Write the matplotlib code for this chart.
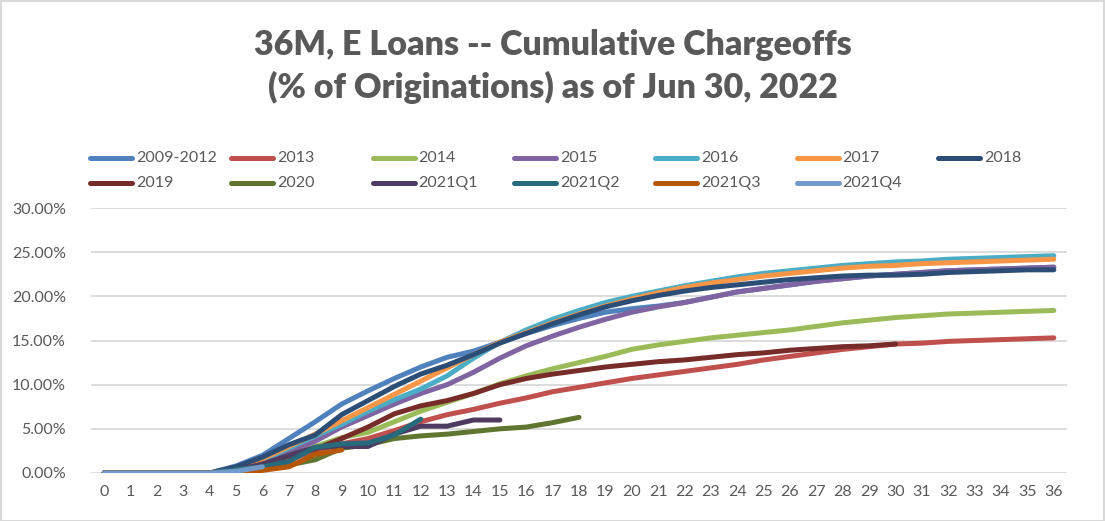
import matplotlib
matplotlib.use("Agg")
import matplotlib.pyplot as plt
from matplotlib.lines import Line2D
from matplotlib.patches import Rectangle
import numpy as np

months = list(range(37))
series_names = ["2009-2012", "2013", "2014", "2015", "2016", "2017", "2018",
                "2019", "2020", "2021Q1", "2021Q2", "2021Q3", "2021Q4"]
colors = ["#4F81BD", "#C0504D", "#9BBB59", "#8064A2", "#4BACC6", "#F79646", "#2C4D75",
          "#772C2A", "#5F7530", "#4D3B62", "#276A7C", "#B65708", "#729ACA"]

s_2009_2012 = [0, 0, 0, 0, 0, 0.8, 2.0, 3.9, 5.8, 7.8, 9.3, 10.7, 12.0, 13.1, 13.8, 14.8, 15.8, 16.7,
               17.5, 18.2, 18.6, 18.9, 19.3, 19.9, 20.5, 20.9, 21.3, 21.7, 22.0, 22.3, 22.5, 22.7,
               22.9, 23.0, 23.1, 23.2, 23.3]
s_2013 = [0, 0, 0, 0, 0, 0.1, 0.6, 1.5, 2.5, 3.3, 3.9, 4.8, 5.8, 6.6, 7.2, 7.9, 8.5, 9.2, 9.7,
          10.2, 10.7, 11.1, 11.5, 11.9, 12.3, 12.8, 13.2, 13.6, 14.0, 14.3, 14.6, 14.7, 14.9,
          15.0, 15.1, 15.2, 15.3]
s_2014 = [0, 0, 0, 0, 0, 0.2, 0.8, 1.8, 3.0, 4.0, 4.6, 5.8, 7.0, 8.0, 9.0, 10.1, 11.0, 11.8,
          12.5, 13.2, 14.0, 14.5, 14.9, 15.3, 15.6, 15.9, 16.2, 16.6, 17.0, 17.3, 17.6, 17.8,
          18.0, 18.1, 18.2, 18.3, 18.4]
s_2015 = [0, 0, 0, 0, 0, 0.4, 1.3, 2.4, 3.6, 5.2, 6.5, 7.8, 9.0, 10.0, 11.4, 13.0, 14.4, 15.5,
          16.5, 17.4, 18.2, 18.8, 19.3, 19.9, 20.5, 20.9, 21.3, 21.7, 22.0, 22.3, 22.5, 22.7,
          22.9, 23.0, 23.1, 23.2, 23.3]
s_2016 = [0, 0, 0, 0, 0, 0.5, 1.5, 2.8, 4.2, 5.5, 7.0, 8.3, 9.5, 11.0, 13.0, 14.8, 16.2, 17.4,
          18.4, 19.3, 20.0, 20.6, 21.2, 21.7, 22.2, 22.6, 22.9, 23.2, 23.5, 23.7, 23.9, 24.0,
          24.2, 24.3, 24.4, 24.5, 24.6]
s_2017 = [0, 0, 0, 0, 0, 0.6, 1.6, 3.0, 4.4, 5.9, 7.4, 8.9, 10.4, 11.9, 13.4, 14.8, 15.9, 17.0,
          18.0, 18.9, 19.7, 20.4, 21.0, 21.5, 21.9, 22.3, 22.6, 22.9, 23.2, 23.4, 23.5, 23.7,
          23.8, 23.9, 24.0, 24.1, 24.2]
s_2018 = [0, 0, 0, 0, 0, 0.7, 1.8, 3.2, 4.3, 6.6, 8.2, 9.8, 11.2, 12.2, 13.4, 14.7, 15.8, 16.9,
          17.9, 18.8, 19.5, 20.1, 20.6, 21.0, 21.3, 21.6, 21.9, 22.1, 22.3, 22.4, 22.4, 22.5,
          22.7, 22.8, 22.9, 23.0, 23.0]
s_2019 = [0, 0, 0, 0, 0, 0.3, 1.0, 1.9, 2.7, 3.9, 5.2, 6.7, 7.6, 8.2, 9.0, 10.0, 10.7, 11.2,
          11.6, 12.0, 12.3, 12.6, 12.8, 13.1, 13.4, 13.6, 13.9, 14.1, 14.3, 14.4, 14.6]
s_2020 = [0, 0, 0, 0, 0, 0.1, 0.5, 0.9, 1.5, 2.8, 3.2, 3.9, 4.2, 4.4, 4.7, 5.0, 5.2, 5.7, 6.3]
s_2021Q1 = [0, 0, 0, 0, 0, 0.3, 1.0, 2.0, 2.9, 3.0, 3.0, 4.4, 5.3, 5.3, 6.0, 6.0]
s_2021Q2 = [0, 0, 0, 0, 0, 0.4, 0.7, 1.3, 2.9, 3.3, 3.4, 4.3, 6.1]
s_2021Q3 = [0, 0, 0, 0, 0, 0.0, 0.3, 0.7, 2.1, 2.6]
s_2021Q4 = [0, 0, 0, 0, 0, 0.2, 0.7]

all_series = [s_2009_2012, s_2013, s_2014, s_2015, s_2016, s_2017, s_2018,
              s_2019, s_2020, s_2021Q1, s_2021Q2, s_2021Q3, s_2021Q4]

y_ticks = [0, 5, 10, 15, 20, 25, 30]
title_text = "36M, E Loans -- Cumulative Chargeoffs\n(% of Originations) as of Jun 30, 2022"

W, H = 1105, 521
fig = plt.figure(figsize=(W / 100, H / 100), dpi=100)
fig.patch.set_facecolor("white")
txt_color = "#595959"
font = "Lato"
LW = 3.6

ax = fig.add_axes([91 / W, 1 - 473 / H, (1067 - 91) / W, (473 - 208) / H])
for name, col, vals in zip(series_names, colors, all_series):
    ax.plot(months[:len(vals)], vals, color=col, lw=LW, solid_capstyle="round",
            solid_joinstyle="round", zorder=3)

ax.set_xlim(-0.5, 36.5)
ax.set_ylim(0, 30)
ax.set_xticks(months)
ax.set_xticklabels([str(m) for m in months])
ax.set_yticks(y_ticks)
ax.set_yticklabels([f"{v:.2f}%" for v in y_ticks])
ax.grid(axis="y", color="#D9D9D9", lw=1.3, zorder=0)
for sp in ax.spines.values():
    sp.set_visible(False)
ax.tick_params(axis="both", length=0, labelsize=11.5, labelcolor=txt_color)
ax.tick_params(axis="y", pad=18)
ax.tick_params(axis="x", pad=9)
for lab in ax.get_xticklabels() + ax.get_yticklabels():
    lab.set_fontfamily(font)
ax.set_facecolor("none")

fig.text(553 / W, 1 - 66.5 / H, title_text, ha="center", va="center", fontsize=24.5,
         fontweight="heavy", color=txt_color, family=font, linespacing=1.33)

# legend (Excel-style grid)
for i, (name, col) in enumerate(zip(series_names, colors)):
    row, c = divmod(i, 7)
    x0 = 90 + 141.3 * c
    y0 = 158 + 25 * row
    fig.add_artist(Line2D([x0 / W, (x0 + 42) / W], [1 - y0 / H, 1 - y0 / H], color=col,
                          lw=LW, solid_capstyle="round", transform=fig.transFigure))
    fig.text((x0 + 46) / W, 1 - y0 / H, name, ha="left", va="center", fontsize=11.5,
             color=txt_color, family=font)

fig.add_artist(Rectangle((0.5 / W, 0.5 / H), 1 - 1.5 / W, 1 - 1.5 / H, fill=False,
                         edgecolor="#D9D9D9", lw=1.5, transform=fig.transFigure))

fig.savefig("out.png", dpi=100)
